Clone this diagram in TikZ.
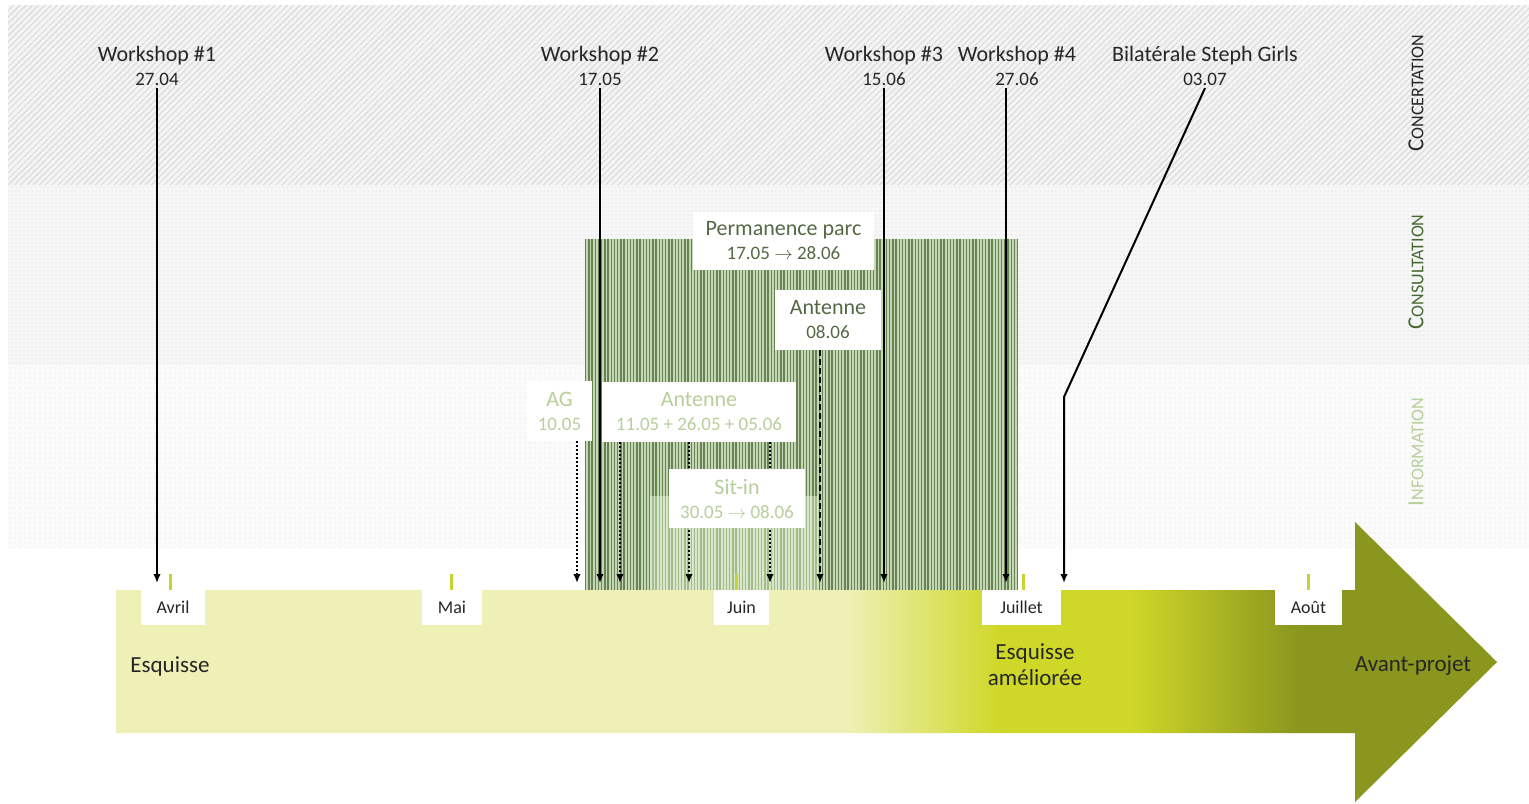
\documentclass[tikz,border=0pt]{standalone}
\usepackage{fontspec}
\setmainfont{Carlito}
\usepackage{tikz}
\usetikzlibrary{calc,positioning,patterns,patterns.meta,arrows.meta}

\definecolor{paleleaf}{RGB}{238,240,181}
\definecolor{limeleaf}{RGB}{207,216,40}
\definecolor{oliveleaf}{RGB}{138,150,30}
\definecolor{tickleaf}{RGB}{198,211,48}
\definecolor{parkdark}{RGB}{100,132,80}
\definecolor{parklight}{RGB}{198,214,182}
\definecolor{sitdark}{RGB}{160,188,135}
\definecolor{sitlight}{RGB}{218,230,204}
\definecolor{consultgreen}{RGB}{70,105,50}
\definecolor{infogreen}{RGB}{183,207,155}
\definecolor{permtext}{RGB}{85,105,70}
\definecolor{inktext}{RGB}{38,38,38}

\pgfdeclarehorizontalshading{timeline}{100bp}{color(0bp)=(paleleaf); color(51.5bp)=(paleleaf); color(57bp)=(limeleaf); color(61.7bp)=(limeleaf); color(67.8bp)=(oliveleaf); color(100bp)=(oliveleaf)}

\tikzset{
  evlabel/.style={align=center,inner sep=1pt,text=inktext,font=\fontsize{11}{12}\selectfont},
  evbox/.style={fill=white,align=center,inner sep=0pt,font=\fontsize{11}{12}\selectfont},
  evline/.style={line width=1pt,-{Latex[length=4.5pt,width=3.8pt]}},
  monthbox/.style={fill=white,inner sep=0pt,minimum height=17.5pt,text=inktext,font=\fontsize{9}{10}\selectfont},
  monthtick/.style={tickleaf,line width=1.5pt},
  bandlabel/.style={rotate=90,inner sep=0pt}
}
\newcommand{\dte}[1]{{\fontsize{9.5}{12}\selectfont #1}}
\newcommand{\bandname}[2]{{\fontsize{11.5}{12}\selectfont #1}{\fontsize{9}{10}\selectfont #2}}

\begin{document}
\begin{tikzpicture}[x=0.5pt,y=-0.5pt]
  \useasboundingbox (0,0) rectangle (1529,803);

  % bands
  \fill[gray!9] (8,5) rectangle (1529,185);
  \fill[pattern={Lines[angle=45,distance=2.2pt,line width=0.5pt]},pattern color=gray!30] (8,5) rectangle (1529,185);
  \fill[gray!6] (8,185) rectangle (1529,365);
  \fill[pattern={Dots[distance=2pt,radius=0.35pt]},pattern color=gray!35] (8,185) rectangle (1529,365);
  \fill[gray!3] (8,365) rectangle (1529,548);
  \fill[pattern={Dots[distance=2.5pt,radius=0.3pt]},pattern color=gray!25] (8,365) rectangle (1529,548);

  \node[bandlabel,text=inktext] (conc) at (1416,93) {\bandname{C}{ONCERTATION}};
  \node[bandlabel,text=consultgreen] (cons) at (1416,272) {\bandname{C}{ONSULTATION}};
  \node[bandlabel,text=infogreen] (info) at (1416,452) {\bandname{I}{NFORMATION}};

  % timeline
  \shade[shading=timeline] (116,590) -- (1355,590) -- (1355,522) -- (1497,662) -- (1355,802)
    -- (1355,733) -- (116,733) -- cycle;

  % permanence + sit-in
  \fill[parklight] (585,239) rectangle (1018,590);
  \fill[pattern={Lines[angle=90,distance=1.6pt,line width=0.7pt]},pattern color=parkdark] (585,239) rectangle (1018,590);
  \fill[sitlight] (650,496) rectangle (818,590);
  \fill[pattern={Lines[angle=90,distance=1.6pt,line width=0.7pt]},pattern color=sitdark] (650,496) rectangle (818,590);

  % months
  \node[monthbox,minimum width=32pt] (avril) at (173,607.5) {Avril};
  \node[monthbox,minimum width=30pt] (mai) at (452,607.5) {Mai};
  \node[monthbox,minimum width=27.5pt] (juin) at (741.5,607.5) {Juin};
  \node[monthbox,minimum width=39.5pt] (juillet) at (1021.5,607.5) {Juillet};
  \node[monthbox,minimum width=33.5pt] (aout) at (1308.5,607.5) {Août};
  \draw[monthtick] (170,574) -- (170,590);
  \draw[monthtick] (451,574) -- (451,590);
  \draw[monthtick] (736,574) -- (736,590);
  \draw[monthtick] (1023,574) -- (1023,590);
  \draw[monthtick] (1308,574) -- (1308,590);

  \node[evlabel,font=\fontsize{11.5}{13}\selectfont] (esq) at (170,666) {Esquisse};
  \node[evlabel,font=\fontsize{11.5}{13}\selectfont] (esqplus) at (1035,665) {Esquisse\\améliorée};
  \node[evlabel,font=\fontsize{11.5}{13}\selectfont] (avp) at (1413,666) {Avant-projet};

  % event boxes
  \node[evbox,text=permtext,minimum width=90.5pt,minimum height=29pt] (perm) at (783.5,241) {Permanence parc\\\dte{17.05 $\rightarrow$ 28.06}};
  \node[evbox,text=permtext,minimum width=53pt,minimum height=30pt] (antB) at (828,320) {Antenne\\\dte{08.06}};
  \node[evbox,text=infogreen,minimum width=32.5pt,minimum height=30pt] (ag) at (559.5,411) {AG\\\dte{10.05}};
  \node[evbox,text=infogreen,minimum width=97pt,minimum height=30pt] (antA) at (699,412) {Antenne\\\dte{11.05 + 26.05 + 05.06}};

  % workshops
  \node[evlabel] (w1) at (157,66) {Workshop \#1\\\dte{27.04}};
  \node[evlabel] (w2) at (600,66) {Workshop \#2\\\dte{17.05}};
  \node[evlabel] (w3) at (884,66) {Workshop \#3\\\dte{15.06}};
  \node[evlabel] (w4) at (1017,66) {Workshop \#4\\\dte{27.06}};
  \node[evlabel] (bil) at (1205,66) {Bilatérale Steph Girls\\\dte{03.07}};

  \coordinate (w1end) at (157,583);
  \coordinate (w2end) at (600,583);
  \coordinate (w3end) at (884,583);
  \coordinate (w4end) at (1006,583);
  \coordinate (bilknee) at (1064,397);
  \coordinate (bilend) at (1064,583);
  \draw[evline] (w1) -- (w1end);
  \draw[evline] (w2) -- (w2end);
  \draw[evline] (w3) -- (w3end);
  \draw[evline] (w4.south -| w4end) -- (w4end);
  \draw[evline] (bil.south) -- (bilknee) -- (bilend);

  % information / consultation arrows
  \coordinate (agend) at (577,583);
  \coordinate (antA1) at (620,583);
  \coordinate (antA2) at (689,583);
  \coordinate (antA3) at (770,583);
  \coordinate (antBend) at (820,583);
  \draw[evline,dash pattern=on 1pt off 1pt] (ag.south -| agend) -- (agend);
  \draw[evline,dash pattern=on 1pt off 1pt] (antA.south -| antA1) -- (antA1);
  \draw[evline,dash pattern=on 1pt off 1pt] (antA.south -| antA2) -- (antA2);
  \draw[evline,dash pattern=on 1pt off 1pt] (antA.south -| antA3) -- (antA3);
  \draw[evline,dash pattern=on 3pt off 1.5pt] (antB.south -| antBend) -- (antBend);

  \node[evbox,text=infogreen,minimum width=68pt,minimum height=29.5pt] (sit) at (737,498.5) {Sit-in\\\dte{30.05 $\rightarrow$ 08.06}};
\end{tikzpicture}
\end{document}
